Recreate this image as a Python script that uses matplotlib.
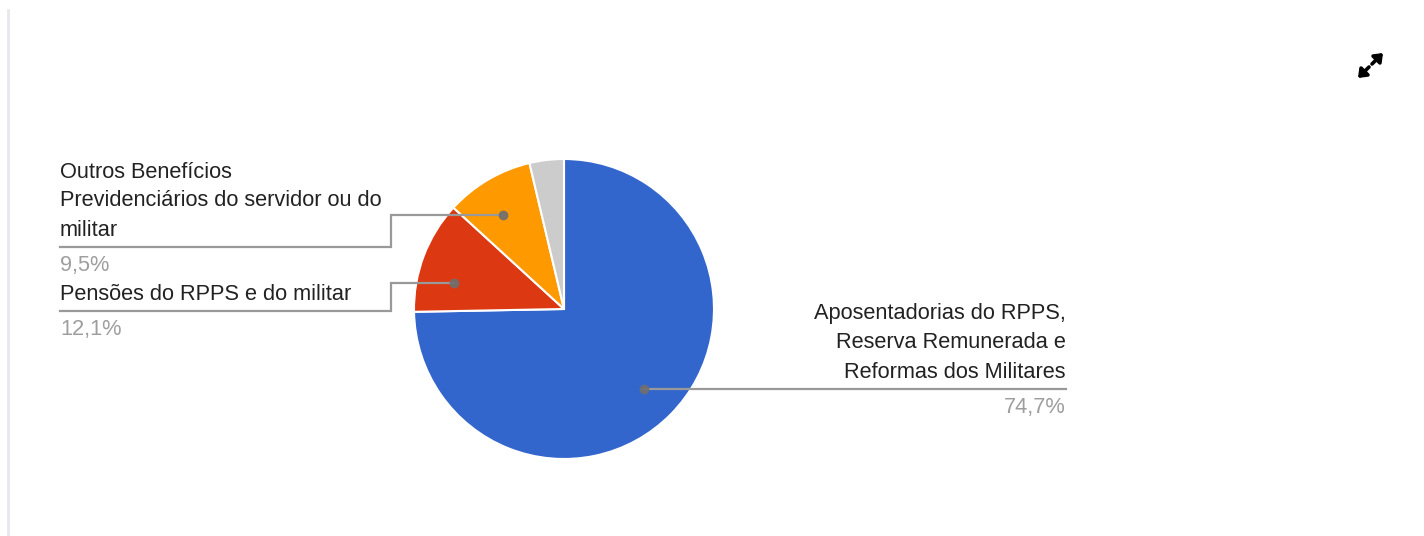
import numpy as np
import matplotlib.pyplot as plt

# values (percent)
labels = ['Aposentadorias do RPPS,\nReserva Remunerada e\nReformas dos Militares',
          'Pensões do RPPS e do militar',
          'Outros Benefícios\nPrevidenciários do servidor ou do\nmilitar',
          'Outros']
values = [74.7, 12.1, 9.5, 3.7]
pct_text = ['74,7%', '12,1%', '9,5%', '']
colors = ['#3366CC', '#DC3912', '#FF9900', '#CCCCCC']

W, H = 1424, 536
plt.rcParams['font.family'] = ['Liberation Sans', 'DejaVu Sans']

fig = plt.figure(figsize=(W / 100, H / 100), dpi=100)
ax = fig.add_axes([0, 0, 1, 1])
ax.set_xlim(0, W)
ax.set_ylim(0, H)
ax.set_aspect('equal')
ax.axis('off')


def fy(y):
    # pixel row from top -> data y
    return H - y


cx, cy, R = 564, 309, 150
wedges, _ = ax.pie(values, colors=colors, startangle=90, counterclock=False,
                   center=(cx, fy(cy)), radius=R,
                   wedgeprops=dict(edgecolor='white', linewidth=1.5))
ax.set_xlim(0, W)
ax.set_ylim(0, H)

line_c = '#999999'
dot_c = '#6f6f6f'
txt_c = '#222222'
pct_c = '#9e9e9e'
fs = 15.7
step = 29


def dot_point(w, frac=0.75, shift=0.0):
    mid = np.deg2rad((w.theta1 + w.theta2) / 2 + shift)
    return cx + frac * R * np.cos(mid), fy(cy) + frac * R * np.sin(mid)


# left side labels: (slice index, underline row, angle shift of the dot)
for i, line_y, shift in [(2, 246.5, 2.5), (1, 310.5, 7.5)]:
    px, py = dot_point(wedges[i], shift=shift)
    ax.plot([px, 391, 391, 60], [py, py, fy(line_y), fy(line_y)],
            color=line_c, lw=1.6, solid_joinstyle='miter')
    ax.plot(px, py, 'o', color=dot_c, ms=6, alpha=0.9)
    lines = labels[i].split('\n')
    for k, t in enumerate(lines):
        base = line_y - 11 - (len(lines) - 1 - k) * step
        ax.text(60, fy(base), t, fontsize=fs, color=txt_c, ha='left', va='baseline')
    ax.text(60, fy(line_y + 24), pct_text[i], fontsize=fs, color=pct_c,
            ha='left', va='baseline')

# right side label for the big slice
px, py = dot_point(wedges[0])
line_y = 388.5
ax.plot([px, 1066], [fy(line_y), fy(line_y)], color=line_c, lw=1.6)
ax.plot(px, fy(line_y), 'o', color=dot_c, ms=6, alpha=0.9)
lines = labels[0].split('\n')
for k, t in enumerate(lines):
    base = line_y - 11 - (len(lines) - 1 - k) * step
    ax.text(1066, fy(base), t, fontsize=fs, color=txt_c, ha='right', va='baseline')
ax.text(1066, fy(line_y + 24), pct_text[0], fontsize=fs, color=pct_c,
        ha='right', va='baseline')

# left border of the card
ax.plot([8, 8], [fy(10), fy(536)], color='#e6e8eb', lw=2)

# expand icon
for start, end in [((1369, 67), (1358, 78)), ((1372, 64), (1383, 53))]:
    ax.annotate('', xy=(end[0], fy(end[1])), xytext=(start[0], fy(start[1])),
                arrowprops=dict(arrowstyle='-|>,head_length=0.45,head_width=0.35',
                                color='black', lw=2.6, shrinkA=0, shrinkB=0))

fig.savefig('out.png', dpi=100)
